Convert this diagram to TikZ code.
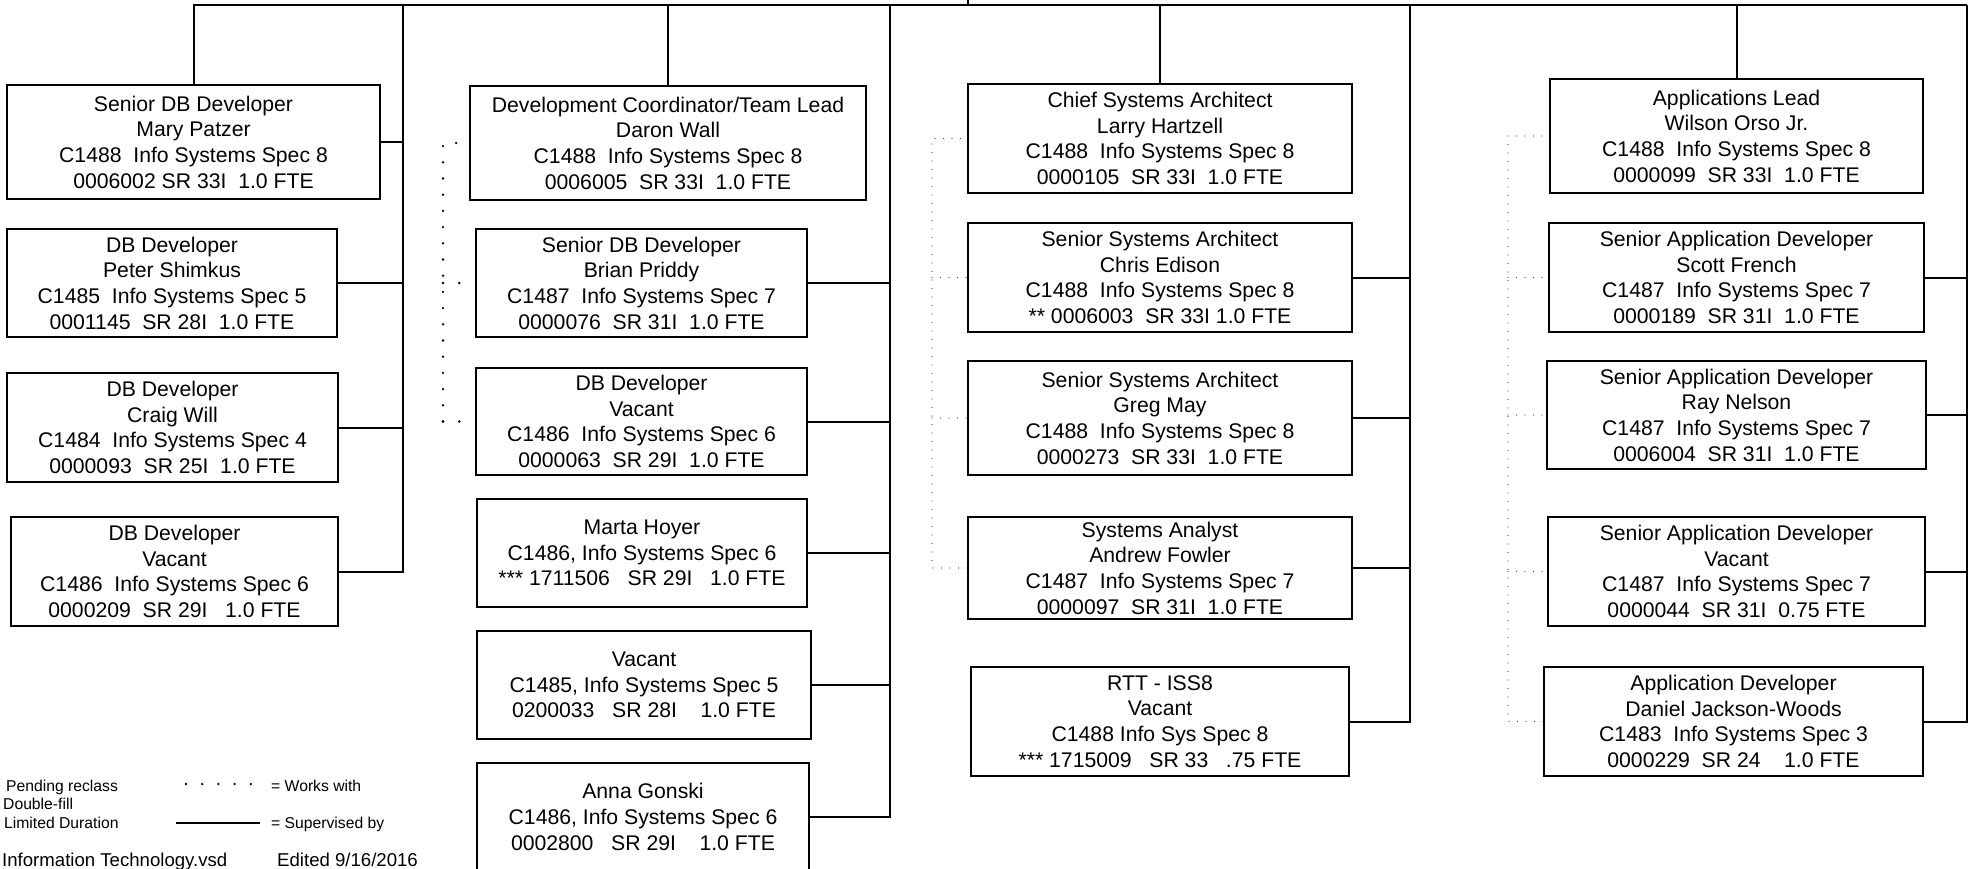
\documentclass[tikz,border=0pt]{standalone}
\usepackage{fontspec}
\setmainfont{Liberation Sans}
\begin{document}
\newcommand\orgbox[6]{%
  \pgfmathsetmacro\obw{#4-#2}\pgfmathsetmacro\obh{#5-#3}%
  \node[box, minimum width=\obw pt, minimum height=\obh pt] (#1) at ({(#2+#4)/2},{(#3+#5)/2}) {#6};}
\begin{tikzpicture}[x=1pt,y=-1pt,
  box/.style={draw, line width=2pt, align=center, inner sep=0pt, fill=white,
    font=\fontsize{21.2}{25.7}\selectfont},
  sup/.style={line width=2pt},
  bigdots/.style={line width=2.6pt, line cap=round, dash pattern=on 0pt off 16.2pt},
  finedots/.style={line width=1.3pt, line cap=round, dash pattern=on 0pt off 8.5pt, black!75},
  lgd/.style={anchor=base west, inner sep=0pt, font=\fontsize{15.7}{19}\selectfont},
  lgdbig/.style={anchor=base west, inner sep=0pt, font=\fontsize{18.6}{22}\selectfont}]
\useasboundingbox (0,0) rectangle (1971,869);
% column 1
\orgbox{a1}{7}{85}{380}{199}{Senior DB Developer\\Mary Patzer\\C1488~ Info Systems Spec 8\\0006002 SR 33I~ 1.0 FTE}
\orgbox{a2}{7}{229}{337}{337}{DB Developer\\Peter Shimkus\\C1485~ Info Systems Spec 5\\0001145~ SR 28I~ 1.0 FTE}
\orgbox{a3}{7}{373}{338}{482}{DB Developer\\Craig Will\\C1484~ Info Systems Spec 4\\0000093~ SR 25I~ 1.0 FTE}
\orgbox{a4}{11}{517}{338}{626}{DB Developer\\Vacant\\C1486~ Info Systems Spec 6\\0000209~ SR 29I~~ 1.0 FTE}
% column 2
\orgbox{b1}{470}{86}{866}{200}{Development Coordinator/Team Lead\\Daron Wall\\C1488~ Info Systems Spec 8\\0006005~ SR 33I~ 1.0 FTE}
\orgbox{b2}{476}{229}{807}{337}{Senior DB Developer\\Brian Priddy\\C1487~ Info Systems Spec 7\\0000076~ SR 31I~ 1.0 FTE}
\orgbox{b3}{476}{368}{807}{475}{DB Developer\\Vacant\\C1486~ Info Systems Spec 6\\0000063~ SR 29I~ 1.0 FTE}
\orgbox{b4}{477}{499}{807}{607}{Marta Hoyer\\C1486, Info Systems Spec 6\\*** 1711506~~ SR 29I~~ 1.0 FTE}
\orgbox{b5}{477}{631}{811}{739}{Vacant\\C1485, Info Systems Spec 5\\0200033~~ SR 28I~~~ 1.0 FTE}
\orgbox{b6}{477}{763}{809}{871}{Anna Gonski\\C1486, Info Systems Spec 6\\0002800~~ SR 29I~~~ 1.0 FTE}
% column 3
\orgbox{c1}{968}{84}{1352}{193}{Chief Systems Architect\\Larry Hartzell\\C1488~ Info Systems Spec 8\\0000105~ SR 33I~ 1.0 FTE}
\orgbox{c2}{968}{223}{1352}{332}{Senior Systems Architect\\Chris Edison\\C1488~ Info Systems Spec 8\\** 0006003~ SR 33I 1.0 FTE}
\orgbox{c3}{968}{361}{1352}{475}{Senior Systems Architect\\Greg May\\C1488~ Info Systems Spec 8\\0000273~ SR 33I~ 1.0 FTE}
\orgbox{c4}{968}{517}{1352}{619}{Systems Analyst\\Andrew Fowler\\C1487~ Info Systems Spec 7\\0000097~ SR 31I~ 1.0 FTE}
\orgbox{c5}{971}{667}{1349}{776}{RTT - ISS8\\Vacant\\C1488 Info Sys Spec 8\\*** 1715009~~ SR 33~~ .75 FTE}
% column 4
\orgbox{d1}{1550}{79}{1923}{193}{Applications Lead\\Wilson Orso Jr.\\C1488~ Info Systems Spec 8\\0000099~ SR 33I~ 1.0 FTE}
\orgbox{d2}{1549}{223}{1924}{332}{Senior Application Developer\\Scott French\\C1487~ Info Systems Spec 7\\0000189~ SR 31I~ 1.0 FTE}
\orgbox{d3}{1547}{361}{1926}{469}{Senior Application Developer\\Ray Nelson\\C1487~ Info Systems Spec 7\\0006004~ SR 31I~ 1.0 FTE}
\orgbox{d4}{1548}{517}{1925}{626}{Senior Application Developer\\Vacant\\C1487~ Info Systems Spec 7\\0000044~ SR 31I~ 0.75 FTE}
\orgbox{d5}{1544}{667}{1923}{776}{Application Developer\\Daniel Jackson-Woods\\C1483~ Info Systems Spec 3\\0000229~ SR 24~~~ 1.0 FTE}
% bus coordinates
\coordinate (parent) at (968,0);
\coordinate (tl) at (193,5);
\coordinate (bus1) at (403,5);
\coordinate (bus2) at (890,5);
\coordinate (bus3) at (1410,5);
\coordinate (bus4) at (1967,5);
% supervised-by lines
\draw[sup] (a1.north) |- (bus4);
\draw[sup] (parent) -- (parent |- tl);
\draw[sup] (b1.north) -- (b1.north |- tl);
\draw[sup] (c1.north) -- (c1.north |- tl);
\draw[sup] (d1.north) -- (d1.north |- tl);
\draw[sup] (bus1) |- (a4.east);
\foreach \n in {a1,a2,a3} \draw[sup] (\n.east) -- (\n.east -| bus1);
\draw[sup] (bus2) |- (b6.east);
\foreach \n in {b2,b3,b4,b5} \draw[sup] (\n.east) -- (\n.east -| bus2);
\draw[sup] (bus3) |- (c5.east);
\foreach \n in {c2,c3,c4} \draw[sup] (\n.east) -- (\n.east -| bus3);
\draw[sup] (bus4) |- (d5.east);
\foreach \n in {d2,d3,d4} \draw[sup] (\n.east) -- (\n.east -| bus4);
% works-with lines
\coordinate (w2) at (443,0);
\coordinate (w3) at (932,0);
\coordinate (w4) at (1508,0);
\draw[bigdots] (b3.west -| w2) |- (b1.west);
\draw[bigdots] (b2.west -| w2) -- (b2.west);
\draw[bigdots] (b3.west -| w2) -- (b3.west);
\draw[finedots] (c4.west) -| (w3 |- c1.west) -- (c1.west);
\foreach \n in {c2,c3} \draw[finedots] (\n.west -| w3) -- (\n.west);
\draw[finedots] (d5.west) -| (w4 |- d1.west) -- (d1.west);
\foreach \n in {d2,d3,d4} \draw[finedots] (\n.west -| w4) -- (\n.west);
% legend
\node[lgd] (l1) at (6,791) {Pending reclass};
\node[lgd] (l2) at (3,809) {Double-fill};
\node[lgd] (l3) at (4,828) {Limited Duration};
\coordinate (ld1) at (186,784);
\coordinate (ld2) at (252,784);
\draw[bigdots] (ld1) -- (ld2);
\coordinate (ls1) at (176,823);
\coordinate (ls2) at (260,823);
\draw[sup] (ls1) -- (ls2);
\node[lgd] (l4) at (271,791) {= Works with};
\node[lgd] (l5) at (271,828) {= Supervised by};
\node[lgdbig] (l6) at (2,866) {Information Technology.vsd};
\node[lgdbig] (l7) at (277,866) {Edited 9/16/2016};
\end{tikzpicture}
\end{document}
